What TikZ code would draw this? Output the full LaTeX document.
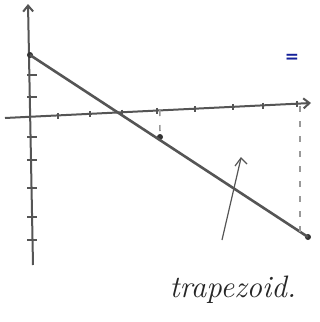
\documentclass[tikz,border=0pt]{standalone}
\usepackage{fontspec}
\newfontfamily\eqfont{DejaVu Sans}
\usetikzlibrary{arrows.meta}
\definecolor{pencil}{HTML}{555555}
\definecolor{inkblue}{HTML}{14209A}
\tikzset{
  axis/.style={draw=pencil, line width=2pt, -{Straight Barb[length=6pt,width=10pt]}},
  graphline/.style={draw=pencil, line width=2.6pt},
  guide/.style={draw=pencil!60, line width=1.6pt, dash pattern=on 6pt off 9pt},
  tick/.style={draw=pencil, line width=1.2pt},
  dot/.style={circle, fill=black!80, inner sep=0pt, minimum size=6pt},
  pointer/.style={draw=pencil, line width=1.2pt},
}
\begin{document}
\begin{tikzpicture}[x=1pt,y=-1pt]
\useasboundingbox (0,0) rectangle (320,322);
% axes
\coordinate (ybot) at (33,265);
\coordinate (ytop) at (28,4);
\coordinate (xleft) at (5,118);
\coordinate (xright) at (311,103);
\draw[axis] (ybot) -- (ytop);
\draw[axis] (xleft) -- (xright);
% ticks on y axis
\foreach \yy in {75,97,137,160,188,217,240}
  \draw[tick] (27,\yy) -- (37,\yy);
% ticks on x axis
\foreach \xx/\yy in {58/115.8,90/114.2,122/112.6,157/110.9,195/109,233/107.1,263/105.6,297/103.9}
  \draw[tick] (\xx,\yy-3) -- (\xx,\yy+3);
% points and line
\node[dot] (p1) at (30,55) {};
\node[dot] (p2) at (160,137) {};
\node[dot] (p3) at (308,237) {};
\draw[graphline] (p1.center) -- (p3.center);
% dashed guides
\coordinate (g1) at (159.8,110);
\coordinate (g2) at (300,106);
\coordinate (g3) at (300,232);
\draw[guide] (g1) -- (p2);
\draw[guide] (g2) -- (g3);
% blue equals sign
\node[text=inkblue, font=\eqfont\bfseries\fontsize{17}{17}\selectfont, inner sep=0pt] (eq) at (292,58) {=};
% label and pointer
\node[font=\itshape\fontsize{31}{33}\selectfont, text=black!85, anchor=base west] (lab) at (166,297) {trapezoid.};
\coordinate (ptip) at (241,158);
\coordinate (pbase) at (222,240);
\draw[pointer] (pbase) -- (ptip);
\draw[pointer] (235,166) -- (ptip) -- (247,164);
\end{tikzpicture}
\end{document}
